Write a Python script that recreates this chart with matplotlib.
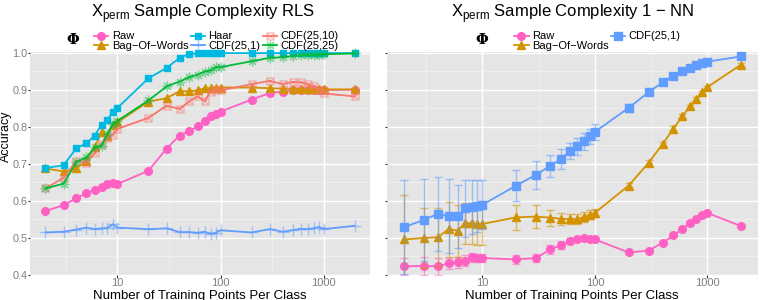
"""Sample complexity curves: RLS vs 1-NN on X_perm."""
import matplotlib
matplotlib.use("Agg")
import matplotlib.pyplot as plt
from matplotlib.colors import to_rgba
from matplotlib.lines import Line2D
from matplotlib.path import Path

plt.rcParams["font.family"] = ["Liberation Sans", "DejaVu Sans"]
plt.rcParams["mathtext.fontset"] = "custom"
plt.rcParams["mathtext.rm"] = "Liberation Sans"

n_train = [2, 3, 4, 5, 6, 7, 8, 9, 10, 20, 30, 40, 50, 60, 70, 80, 90, 100,
           200, 300, 400, 500, 600, 700, 800, 900, 1000, 2000]

# RLS panel
rls_raw = [0.572, 0.588, 0.607, 0.620, 0.629, 0.636, 0.645, 0.647, 0.645,
           0.681, 0.741, 0.776, 0.789, 0.801, 0.816, 0.828, 0.834, 0.841,
           0.873, 0.891, 0.895, 0.898, 0.899, 0.899, 0.900, 0.900, 0.899, 0.900]
rls_bow = [0.687, 0.679, 0.687, 0.708, 0.744, 0.786, 0.776, 0.805, 0.812,
           0.868, 0.877, 0.896, 0.896, 0.898, 0.904, 0.904, 0.906, 0.906,
           0.906, 0.904, 0.903, 0.903, 0.902, 0.901, 0.901, 0.901, 0.901, 0.901]
rls_haar = [0.688, 0.696, 0.742, 0.755, 0.776, 0.805, 0.819, 0.841, 0.851,
            0.931, 0.959, 0.986, 0.997, 0.998, 0.999, 0.999, 0.999, 0.999,
            0.999, 0.999, 0.999, 0.999, 0.999, 0.999, 0.999, 0.999, 0.999, 0.999]
rls_cdf1 = [0.514, 0.516, 0.522, 0.527, 0.523, 0.525, 0.526, 0.536, 0.527,
            0.523, 0.525, 0.515, 0.515, 0.513, 0.516, 0.510, 0.513, 0.520,
            0.514, 0.523, 0.516, 0.520, 0.524, 0.523, 0.525, 0.529, 0.523, 0.532]
rls_cdf10 = [0.633, 0.662, 0.708, 0.703, 0.728, 0.753, 0.770, 0.778, 0.794,
             0.824, 0.857, 0.848, 0.869, 0.882, 0.869, 0.895, 0.898, 0.898,
             0.915, 0.924, 0.915, 0.921, 0.920, 0.915, 0.910, 0.900, 0.890, 0.882]
rls_cdf25 = [0.633, 0.646, 0.705, 0.717, 0.744, 0.748, 0.780, 0.807, 0.816,
             0.871, 0.909, 0.922, 0.934, 0.941, 0.949, 0.952, 0.961, 0.961,
             0.977, 0.986, 0.988, 0.991, 0.993, 0.994, 0.995, 0.995, 0.996, 0.998]

# 1-NN panel (mean, error)
nn_raw = [0.422, 0.424, 0.422, 0.431, 0.433, 0.438, 0.447, 0.445, 0.445,
          0.441, 0.445, 0.468, 0.480, 0.490, 0.496, 0.498, 0.496, 0.495,
          0.460, 0.465, 0.486, 0.506, 0.524, 0.540, 0.551, 0.560, 0.567, 0.531]
nn_raw_err = [0.022, 0.024, 0.024, 0.015, 0.015, 0.015, 0.012, 0.012, 0.012,
              0.012, 0.012, 0.012, 0.010, 0.008, 0.006, 0.005, 0.005, 0.005,
              0.004, 0.004, 0.004, 0.004, 0.004, 0.004, 0.004, 0.003, 0.003, 0.003]
nn_bow = [0.495, 0.499, 0.501, 0.523, 0.519, 0.539, 0.539, 0.537, 0.537,
          0.555, 0.557, 0.554, 0.551, 0.550, 0.550, 0.556, 0.562, 0.567,
          0.641, 0.702, 0.753, 0.795, 0.828, 0.855, 0.875, 0.893, 0.907, 0.968]
nn_bow_err = [0.120, 0.080, 0.080, 0.074, 0.070, 0.056, 0.056, 0.058, 0.058,
              0.033, 0.032, 0.022, 0.017, 0.013, 0.013, 0.013, 0.012, 0.010,
              0.007, 0.007, 0.006, 0.006, 0.005, 0.005, 0.005, 0.004, 0.004, 0.004]
nn_cdf1 = [0.528, 0.548, 0.564, 0.558, 0.558, 0.579, 0.582, 0.585, 0.589,
           0.641, 0.670, 0.694, 0.713, 0.735, 0.747, 0.760, 0.774, 0.786,
           0.851, 0.893, 0.920, 0.938, 0.950, 0.958, 0.966, 0.972, 0.976, 0.990]
nn_cdf1_err = [0.127, 0.110, 0.100, 0.100, 0.085, 0.077, 0.073, 0.070, 0.066,
               0.041, 0.038, 0.029, 0.028, 0.022, 0.023, 0.023, 0.020, 0.021,
               0.011, 0.007, 0.006, 0.005, 0.005, 0.004, 0.004, 0.004, 0.004, 0.003]

C_RAW, C_BOW, C_HAAR = "#FF61C3", "#D39200", "#00B9E3"
C_CDF1, C_CDF10, C_CDF25 = "#619CFF", "#F8766D", "#00BA38"
BOW = "Bag\u2212Of\u2212Words"

# ggplot shape 7: square with a cross inside
SQX = Path([(-1, -1), (1, -1), (1, 1), (-1, 1), (-1, -1), (-1, -1), (1, 1), (-1, 1), (1, -1)],
           [Path.MOVETO, Path.LINETO, Path.LINETO, Path.LINETO, Path.CLOSEPOLY,
            Path.MOVETO, Path.LINETO, Path.MOVETO, Path.LINETO])

STY = {
    "Raw": dict(color=C_RAW, marker="o", ms=5.5),
    BOW: dict(color=C_BOW, marker="^", ms=6),
    "Haar": dict(color=C_HAAR, marker="s", ms=5),
    "CDF(25,1)": dict(color=C_CDF1, marker="+", ms=8, mec=to_rgba(C_CDF1, 0.5), mew=1),
    "CDF(25,10)": dict(color=C_CDF10, marker=SQX, ms=5, mfc="none", mec=to_rgba(C_CDF10, 0.45), mew=1),
    "CDF(25,25)": dict(color=C_CDF25, marker=(8, 2, 0), ms=7, mec=to_rgba(C_CDF25, 0.45), mew=0.9),
}
NN_CDF1 = dict(color=C_CDF1, marker="s", ms=5.5)


def style_axes(ax, ylabels=True):
    ax.set_facecolor("#E5E5E5")
    for s in ax.spines.values():
        s.set_visible(False)
    ax.set_xscale("log")
    ax.set_xlim(10 ** 0.151, 10 ** 3.451)
    ax.set_ylim(0.399, 1.002)
    ax.set_xticks([10, 100, 1000])
    ax.set_xticklabels(["10", "100", "1000"])
    ax.set_xticks([10 ** 0.5, 10 ** 1.5, 10 ** 2.5], minor=True)
    ax.set_xticklabels([], minor=True)
    ax.set_yticks([0.4, 0.5, 0.6, 0.7, 0.8, 0.9, 1.0])
    ax.set_yticks([0.45, 0.55, 0.65, 0.75, 0.85, 0.95], minor=True)
    ax.set_yticklabels(["0.4", "0.5", "0.6", "0.7", "0.8", "0.9", "1.0"] if ylabels else [])
    ax.grid(which="major", color="white", lw=1.0)
    ax.grid(which="minor", color="#F2F2F2", lw=0.5)
    ax.set_axisbelow(True)
    ax.tick_params(which="major", length=2, color="#333333", labelcolor="#7F7F7F",
                   labelsize=8, pad=0.3)
    ax.tick_params(axis="y", which="major", length=1.2, labelsize=7.8, pad=0.5)
    ax.tick_params(which="minor", length=0)


def add_legend(ax, handles, labels, ncol, x0):
    ax.legend(handles, labels, ncol=ncol, loc="lower left", bbox_to_anchor=(x0, 1.0),
              frameon=False, fontsize=8, handlelength=1.3, handletextpad=0.3,
              columnspacing=0.2, labelspacing=-0.05, borderpad=0, borderaxespad=0.1)


fig = plt.figure(figsize=(7.63, 3.0), dpi=100)
ax1 = fig.add_axes([30 / 763, 25 / 300, 340 / 763, 223 / 300])
ax2 = fig.add_axes([387 / 763, 25 / 300, 371 / 763, 223 / 300])

# RLS
style_axes(ax1)
left = [("Raw", rls_raw), (BOW, rls_bow), ("Haar", rls_haar),
        ("CDF(25,1)", rls_cdf1), ("CDF(25,10)", rls_cdf10), ("CDF(25,25)", rls_cdf25)]
for name, vals in left:
    ax1.plot(n_train, vals, lw=1.3, clip_on=False, **STY[name])
add_legend(ax1, [Line2D([], [], lw=1.3, **STY[n]) for n, _ in left],
           [n for n, _ in left], 3, 0.185)

# 1-NN
style_axes(ax2, ylabels=False)
right = [("Raw", nn_raw, nn_raw_err, STY["Raw"]), (BOW, nn_bow, nn_bow_err, STY[BOW]),
         ("CDF(25,1)", nn_cdf1, nn_cdf1_err, NN_CDF1)]
for name, vals, err, st in right:
    ax2.errorbar(n_train, vals, yerr=err, fmt="none", ecolor=to_rgba(st["color"], 0.55),
                 elinewidth=1, capsize=3, capthick=1)
    ax2.plot(n_train, vals, lw=1.3, clip_on=False, **st)
add_legend(ax2, [Line2D([], [], lw=1.3, **st) for _, _, _, st in right],
           [n for n, _, _, _ in right], 2, 0.34)

for xc in (73, 482):
    fig.text(xc / 763, 1 - 40 / 300, "\u03a6", fontsize=10.5, fontweight="bold",
             family="DejaVu Serif", ha="center", va="center")
fig.text(203 / 763, 1 - 14 / 300, r"$\mathrm{X}_{\mathrm{perm}}$ Sample Complexity RLS",
         fontsize=12, ha="center", va="center")
fig.text(573 / 763, 1 - 14 / 300, r"$\mathrm{X}_{\mathrm{perm}}$ Sample Complexity 1 $-$ NN",
         fontsize=12, ha="center", va="center")
for xc in (200, 572):
    fig.text(xc / 763, 1.5 / 300, "Number of Training Points Per Class", fontsize=9.5,
             ha="center", va="baseline")
fig.text(0, 164 / 300, "Accuracy", fontsize=9, rotation=90, ha="left", va="center")

fig.savefig("out.png", dpi=100)
